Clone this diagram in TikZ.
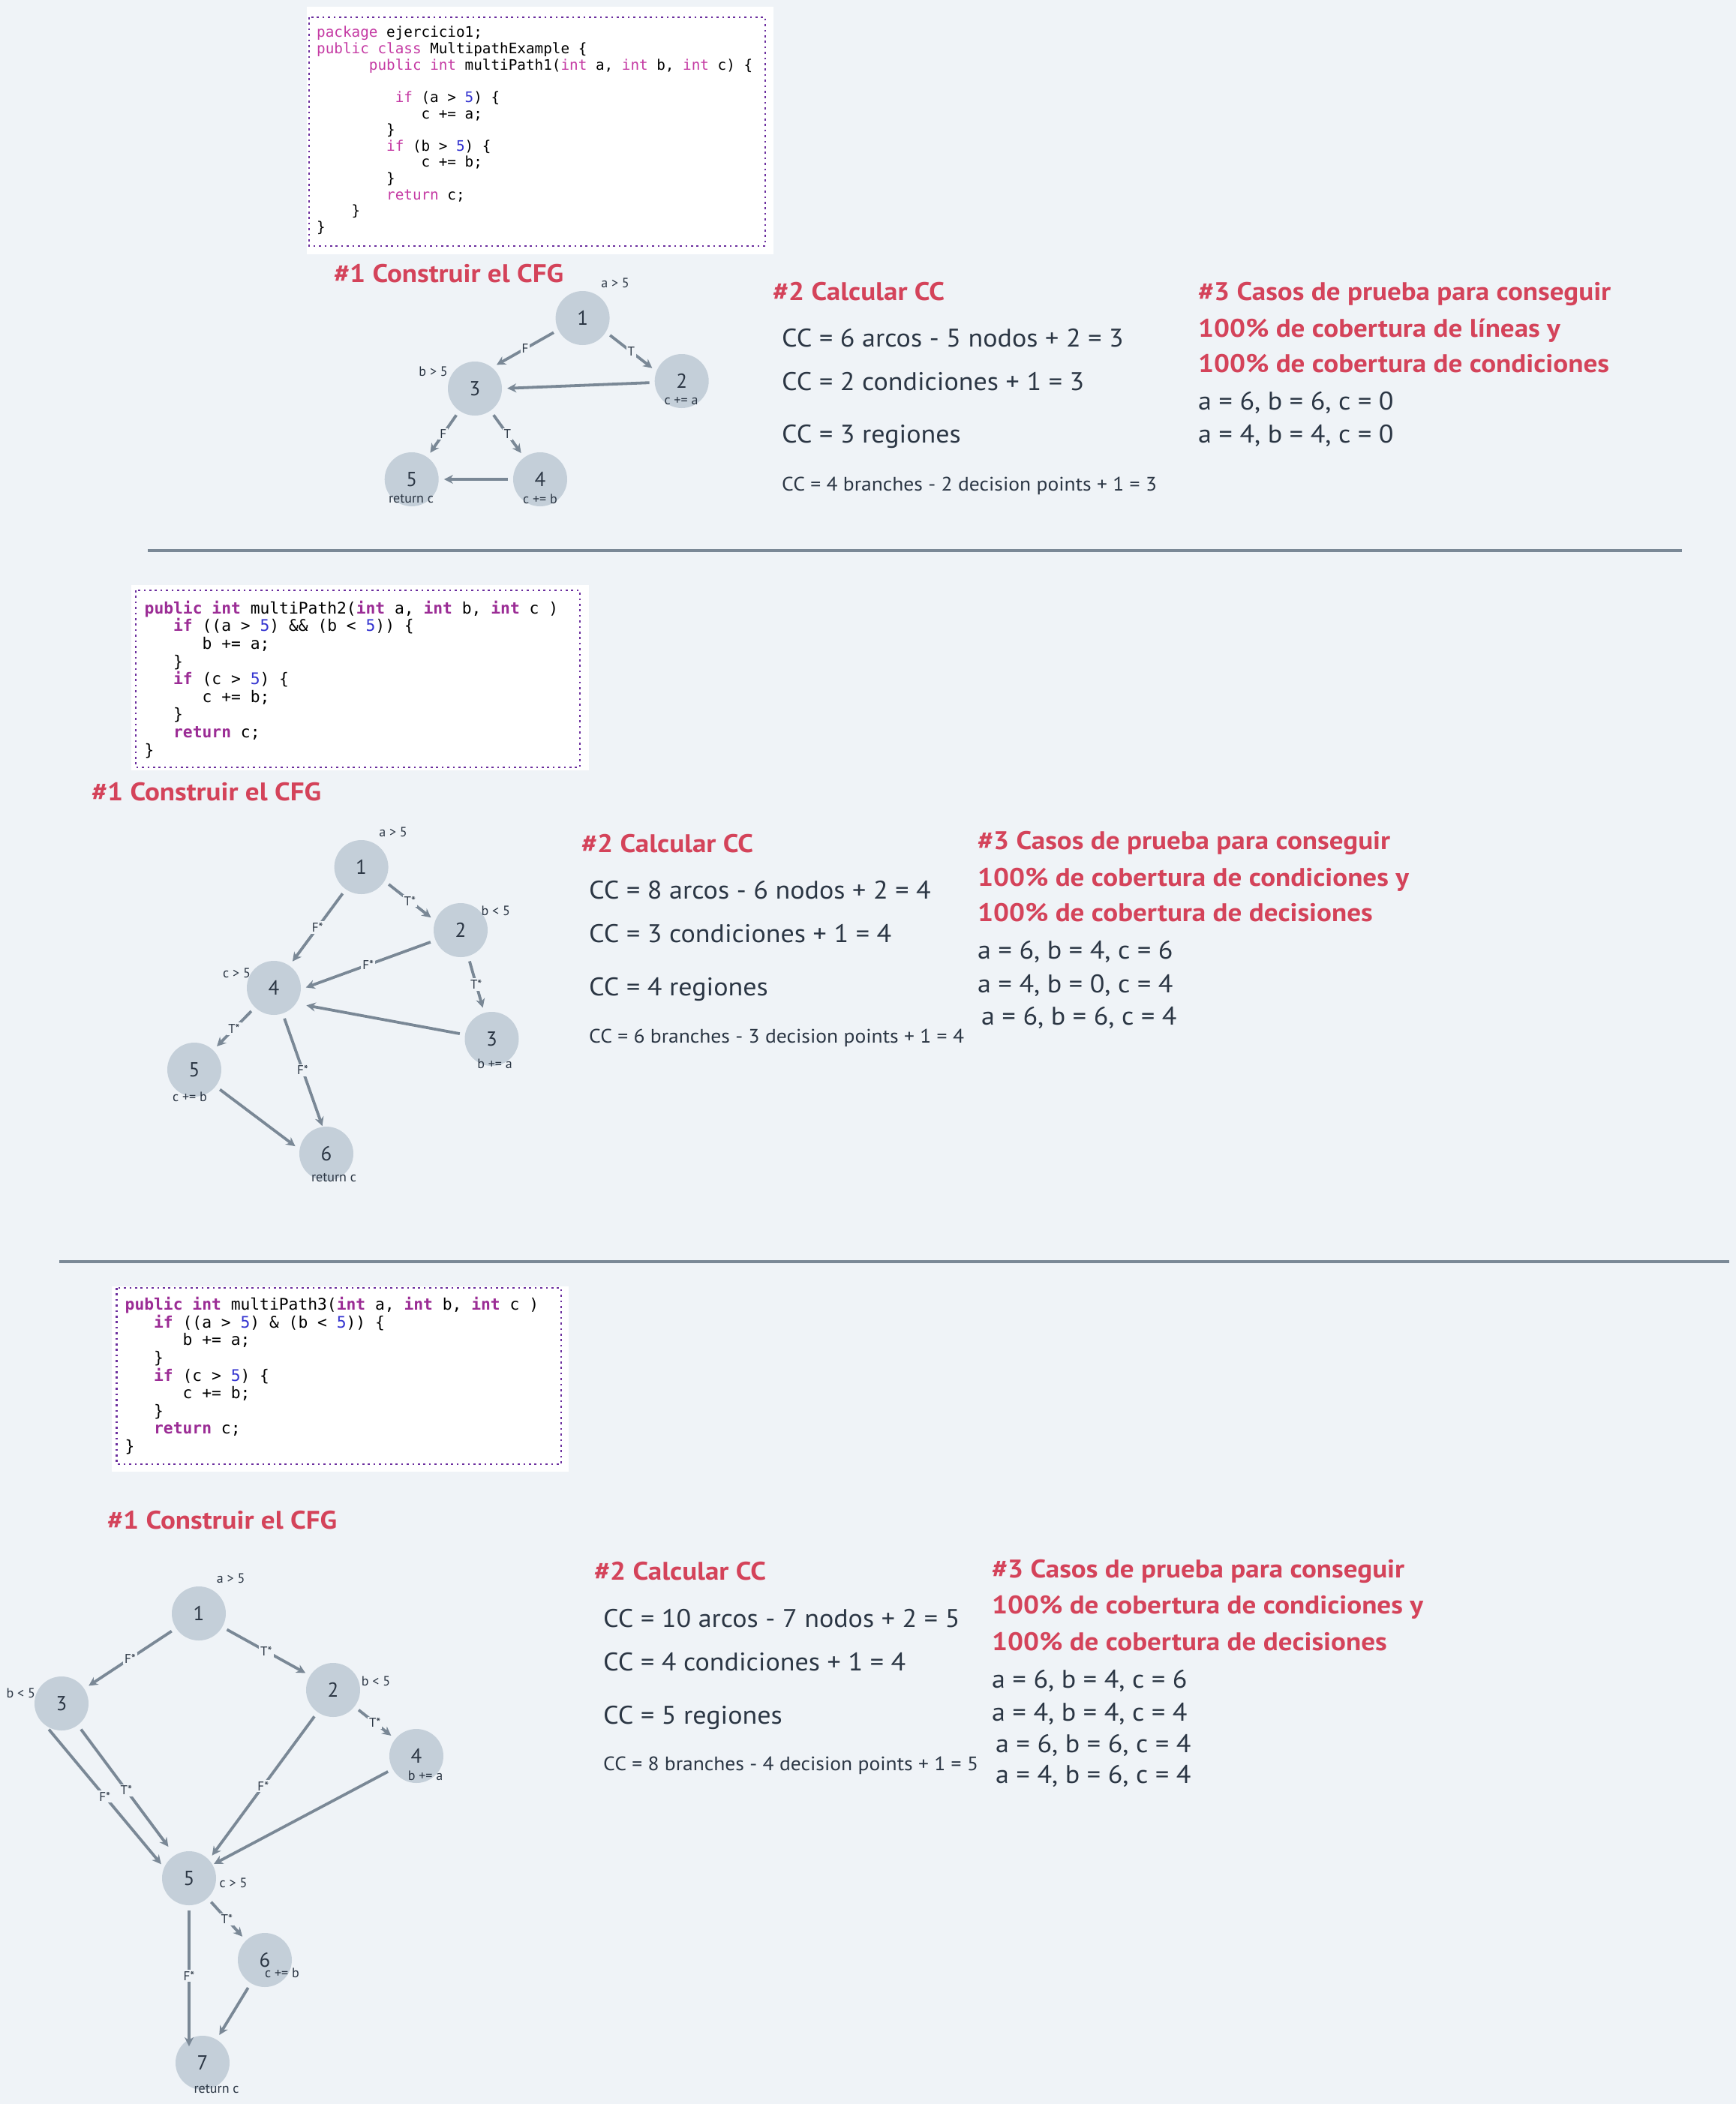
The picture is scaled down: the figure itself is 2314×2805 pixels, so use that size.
\documentclass[tikz,border=0pt]{standalone}
\usepackage{fontspec}
\setmainfont{PT Sans}
\newfontfamily\bodyfont{PT Sans}[FakeStretch=1.06]
\newfontfamily\headfont{PT Sans}[FakeStretch=1.09]
\newfontfamily\codefont{DejaVu Sans Mono}
\usetikzlibrary{arrows.meta}
\definecolor{bg}{HTML}{EFF3F7}
\definecolor{txt}{HTML}{2B3644}
\definecolor{hred}{HTML}{D4435A}
\definecolor{nfill}{HTML}{C4CFD9}
\definecolor{edgec}{HTML}{7A8896}
\definecolor{kwa}{HTML}{C53BA4}
\definecolor{kwb}{HTML}{9B2C95}
\definecolor{numc}{HTML}{3434D0}
\definecolor{dotc}{HTML}{6B2E9E}
\newcommand\kA[1]{\textcolor{kwa}{#1}}
\newcommand\kB[1]{\textcolor{kwb}{\bfseries #1}}
\newcommand\nA[1]{\textcolor{numc}{#1}}
\newcommand\ind[1]{\hspace*{\fpeval{0.602*#1}em}}
\frenchspacing
\tikzset{
  codeA/.style={anchor=base west, inner sep=0pt, text=black, font=\codefont\fontsize{19.3}{22}\selectfont},
  codeB/.style={anchor=base west, inner sep=0pt, text=black, font=\codefont\fontsize{21.3}{24}\selectfont},
  whitebox/.style={fill=white, draw=none},
  dotbox/.style={draw=dotc, line width=2.6pt, dash pattern=on 2.6pt off 4.8pt},
  sepline/.style={draw=edgec, line width=4.5pt},
  cnode/.style={circle, fill=nfill, minimum size=72pt, inner sep=0pt, text=txt, font=\fontsize{27}{30}\selectfont},
  lbl/.style={inner sep=0pt, text=txt, font=\fontsize{18}{20}\selectfont},
  elbl/.style={fill=bg, inner sep=2pt, text=txt, font=\fontsize{17}{19}\selectfont},
  edge/.style={draw=edgec, line width=3.8pt, -{Stealth[length=12pt,width=12pt]}, shorten <=7pt, shorten >=7pt},
  head/.style={anchor=base west, inner sep=0pt, text=hred, font=\headfont\fontsize{34}{40}\selectfont\bfseries},
  body/.style={anchor=base west, inner sep=0pt, text=txt, font=\bodyfont\fontsize{34}{40}\selectfont},
  small/.style={anchor=base west, inner sep=0pt, text=txt, font=\bodyfont\fontsize{26}{30}\selectfont},
}
\begin{document}
\begin{tikzpicture}[x=1pt,y=-1pt]
\fill[bg] (0,0) rectangle (2314,2805);
\useasboundingbox (0,0) rectangle (2314,2805);

% ---------------- Section 1 code ----------------
\fill[whitebox] (409,9) rectangle (1031,339);
\draw[dotbox] (412,23) rectangle (1020,328);
\node[codeA] (a0) at (422,50) {\kA{package} ejercicio1;};
\node[codeA] (a1) at (422,71.6) {\kA{public} \kA{class} MultipathExample \{};
\node[codeA] (a2) at (422,93.2) {\ind{6}\kA{public} \kA{int} multiPath1(\kA{int} a, \kA{int} b, \kA{int} c) \{};
\node[codeA] (a4) at (422,136.4) {\ind{9}\kA{if} (a > \nA{5}) \{};
\node[codeA] (a5) at (422,158) {\ind{12}c += a;};
\node[codeA] (a6) at (422,179.6) {\ind{8}\}};
\node[codeA] (a7) at (422,201.2) {\ind{8}\kA{if} (b > \nA{5}) \{};
\node[codeA] (a8) at (422,222.8) {\ind{12}c += b;};
\node[codeA] (a9) at (422,244.4) {\ind{8}\}};
\node[codeA] (a10) at (422,266) {\ind{8}\kA{return} c;};
\node[codeA] (a11) at (422,287.6) {\ind{4}\}};
\node[codeA] (a12) at (422,309.2) {\}};

% ---------------- Section 1 graph ----------------
\node[head] (t1) at (445,376) {\#1 Construir el CFG};
\node[cnode] (s1n1) at (776.6,424) {1};
\node[cnode] (s1n2) at (908.7,508) {2};
\node[cnode] (s1n3) at (633,518) {3};
\node[cnode] (s1n4) at (720,639) {4};
\node[cnode] (s1n5) at (548.7,639) {5};
\node[lbl] (s1l1) at (820,377) {a > 5};
\node[lbl] (s1l2) at (908,535) {c += a};
\node[lbl] (s1l3) at (577.6,495) {b > 5};
\node[lbl] (s1l4) at (720,665) {c += b};
\node[lbl] (s1l5) at (548,665) {return c};
\draw[edge] (s1n1.206) -- node[elbl]{F} (s1n3.51);
\draw[edge] (s1n1.-31) -- node[elbl]{T} (s1n2.159);
\draw[edge] (s1n2.183) -- (s1n3.0);
\draw[edge] (s1n3.-125) -- node[elbl]{F} (s1n5.55);
\draw[edge] (s1n3.-55) -- node[elbl]{T} (s1n4.126);
\draw[edge] (s1n4.180) -- (s1n5.0);

% ---------------- Section 1 text ----------------
\node[head] (h12) at (1030,400.7) {\#2 Calcular CC};
\node[body] (b11) at (1042,462.7) {CC = 6 arcos - 5 nodos + 2 = 3};
\node[body] (b12) at (1042,520) {CC = 2 condiciones + 1 = 3};
\node[body] (b13) at (1042,590.7) {CC = 3 regiones};
\node[small] (b14) at (1042,654) {CC = 4 branches - 2 decision points + 1 = 3};
\node[head] (h13) at (1597,400.7) {\#3 Casos de prueba para conseguir};
\node[head] (h13b) at (1597,449.3) {100\% de cobertura de líneas y};
\node[head] (h13c) at (1597,496.7) {100\% de cobertura de condiciones};
\node[body] (c11) at (1597,546) {a = 6, b = 6, c = 0};
\node[body] (c12) at (1597,590.7) {a = 4, b = 4, c = 0};

\draw[sepline] (197,734) -- (2242,734);

% ---------------- Section 2 code ----------------
\fill[whitebox] (175,780) rectangle (785,1027);
\draw[dotbox] (181,787) rectangle (773,1023);
\node[codeB] (b0) at (192.5,818.3) {\kB{public} \kB{int} multiPath2(\kB{int} a, \kB{int} b, \kB{int} c )};
\node[codeB] (b1) at (192.5,841.9) {\ind{3}\kB{if} ((a > \nA{5}) \&\& (b < \nA{5})) \{};
\node[codeB] (b2) at (192.5,865.5) {\ind{6}b += a;};
\node[codeB] (b3) at (192.5,889.1) {\ind{3}\}};
\node[codeB] (b4) at (192.5,912.7) {\ind{3}\kB{if} (c > \nA{5}) \{};
\node[codeB] (b5) at (192.5,936.3) {\ind{6}c += b;};
\node[codeB] (b6) at (192.5,959.9) {\ind{3}\}};
\node[codeB] (b7) at (192.5,983.5) {\ind{3}\kB{return} c;};
\node[codeB] (b8) at (192.5,1007.1) {\}};

% ---------------- Section 2 graph ----------------
\node[head] (t2) at (122,1067) {\#1 Construir el CFG};
\node[cnode] (s2n1) at (481.6,1156) {1};
\node[cnode] (s2n2) at (614,1240) {2};
\node[cnode] (s2n3) at (655.5,1385) {3};
\node[cnode] (s2n4) at (365,1317) {4};
\node[cnode] (s2n5) at (259,1426) {5};
\node[cnode] (s2n6) at (435,1538) {6};
\node[lbl] (s2l1) at (524,1109) {a > 5};
\node[lbl] (s2l2) at (660.7,1214) {b < 5};
\node[lbl] (s2l4) at (315.5,1297) {c > 5};
\node[lbl] (s2l3) at (659.5,1418) {b += a};
\node[lbl] (s2l5) at (253,1462) {c += b};
\node[lbl] (s2l6) at (445,1570) {return c};
\draw[edge] (s2n1.235) -- node[elbl]{F*} (s2n4.55);
\draw[edge] (s2n1.-31) -- node[elbl]{T*} (s2n2.160);
\draw[edge] (s2n2.202) -- node[elbl]{F*} (s2n4.-3);
\draw[edge] (s2n2.-74) -- node[elbl]{T*} (s2n3.106);
\draw[edge, shorten >=14pt] (s2n3.171) -- (s2n4.-35);
\draw[edge] (s2n4.-134) -- node[elbl]{T*} (s2n5.46);
\draw[edge, shorten >=1pt] (s2n4.-71) -- node[elbl]{F*} (s2n6.98);
\draw[edge] (s2n5.-38) -- (s2n6.171);

% ---------------- Section 2 text ----------------
\node[head] (h22) at (775,1136) {\#2 Calcular CC};
\node[body] (b21) at (785,1198.3) {CC = 8 arcos - 6 nodos + 2 = 4};
\node[body] (b22) at (785,1256) {CC = 3 condiciones + 1 = 4};
\node[body] (b23) at (785,1327.3) {CC = 4 regiones};
\node[small] (b24) at (785,1390) {CC = 6 branches - 3 decision points + 1 = 4};
\node[head] (h23) at (1303,1132.7) {\#3 Casos de prueba para conseguir};
\node[head] (h23b) at (1303,1181.7) {100\% de cobertura de condiciones y};
\node[head] (h23c) at (1303,1228.3) {100\% de cobertura de decisiones};
\node[body] (c21) at (1303,1278.3) {a = 6, b = 4, c = 6};
\node[body] (c22) at (1303,1323.3) {a = 4, b = 0, c = 4};
\node[body] (c23) at (1308,1366) {a = 6, b = 6, c = 4};

\draw[sepline] (79,1682) -- (2305,1682);

% ---------------- Section 3 code ----------------
\fill[whitebox] (149,1715) rectangle (758,1962);
\draw[dotbox] (155.5,1717) rectangle (748,1952);
\node[codeB] (d0) at (166.5,1746.7) {\kB{public} \kB{int} multiPath3(\kB{int} a, \kB{int} b, \kB{int} c )};
\node[codeB] (d1) at (166.5,1770.3) {\ind{3}\kB{if} ((a > \nA{5}) \& (b < \nA{5})) \{};
\node[codeB] (d2) at (166.5,1793.9) {\ind{6}b += a;};
\node[codeB] (d3) at (166.5,1817.5) {\ind{3}\}};
\node[codeB] (d4) at (166.5,1841.1) {\ind{3}\kB{if} (c > \nA{5}) \{};
\node[codeB] (d5) at (166.5,1864.7) {\ind{6}c += b;};
\node[codeB] (d6) at (166.5,1888.3) {\ind{3}\}};
\node[codeB] (d7) at (166.5,1911.9) {\ind{3}\kB{return} c;};
\node[codeB] (d8) at (166.5,1935.5) {\}};

% ---------------- Section 3 graph ----------------
\node[head] (t3) at (143,2038) {\#1 Construir el CFG};
\node[cnode] (s3n1) at (265,2151) {1};
\node[cnode] (s3n2) at (444,2253) {2};
\node[cnode] (s3n3) at (82,2271) {3};
\node[cnode] (s3n4) at (555,2341) {4};
\node[cnode] (s3n5) at (252,2504) {5};
\node[cnode] (s3n6) at (353,2613) {6};
\node[cnode] (s3n7) at (270,2750) {7};
\coordinate (e7) at (252,2728);
\node[lbl] (s3l1) at (307.6,2104) {a > 5};
\node[lbl] (s3l2) at (501,2241.5) {b < 5};
\node[lbl] (s3l3) at (27.7,2257) {b < 5};
\node[lbl] (s3l4) at (567,2367) {b += a};
\node[lbl] (s3l5) at (311,2510) {c > 5};
\node[lbl] (s3l6) at (376,2630) {c += b};
\node[lbl] (s3l7) at (288.6,2785) {return c};
\draw[edge] (s3n1.213) -- node[elbl]{F*} (s3n3.33);
\draw[edge] (s3n1.-30) -- node[elbl]{T*} (s3n2.148);
\draw[edge] (s3n2.-38) -- node[elbl]{T*} (s3n4.141);
\draw[edge] (s3n2.235) -- node[elbl]{F*} (s3n5.43);
\draw[edge, shorten >=2pt] (s3n4.209) -- (s3n5.30);
\draw[edge, shorten >=14pt] (s3n3.-53) -- node[elbl]{T*} (s3n5.122);
\draw[edge, shorten >=6pt] (s3n3.-126) -- node[elbl]{F*} (s3n5.157);
\draw[edge] (s3n5.-47) -- node[elbl]{T*} (s3n6.134);
\draw[edge, shorten >=0pt] (s3n5.south) -- node[elbl]{F*} (e7);
\draw[edge] (s3n6.-121) -- (s3n7.59.5);

% ---------------- Section 3 text ----------------
\node[head] (h32) at (792,2106.7) {\#2 Calcular CC};
\node[body] (b31) at (804,2169.3) {CC = 10 arcos - 7 nodos + 2 = 5};
\node[body] (b32) at (804,2227.3) {CC = 4 condiciones + 1 = 4};
\node[body] (b33) at (804,2298.3) {CC = 5 regiones};
\node[small] (b34) at (804,2360.7) {CC = 8 branches - 4 decision points + 1 = 5};
\node[head] (h33) at (1322,2103.3) {\#3 Casos de prueba para conseguir};
\node[head] (h33b) at (1322,2151.7) {100\% de cobertura de condiciones y};
\node[head] (h33c) at (1322,2200) {100\% de cobertura de decisiones};
\node[body] (c31) at (1322,2250) {a = 6, b = 4, c = 6};
\node[body] (c32) at (1322,2294) {a = 4, b = 4, c = 4};
\node[body] (c33) at (1327,2336) {a = 6, b = 6, c = 4};
\node[body] (c34) at (1327,2377.3) {a = 4, b = 6, c = 4};
\end{tikzpicture}
\end{document}
